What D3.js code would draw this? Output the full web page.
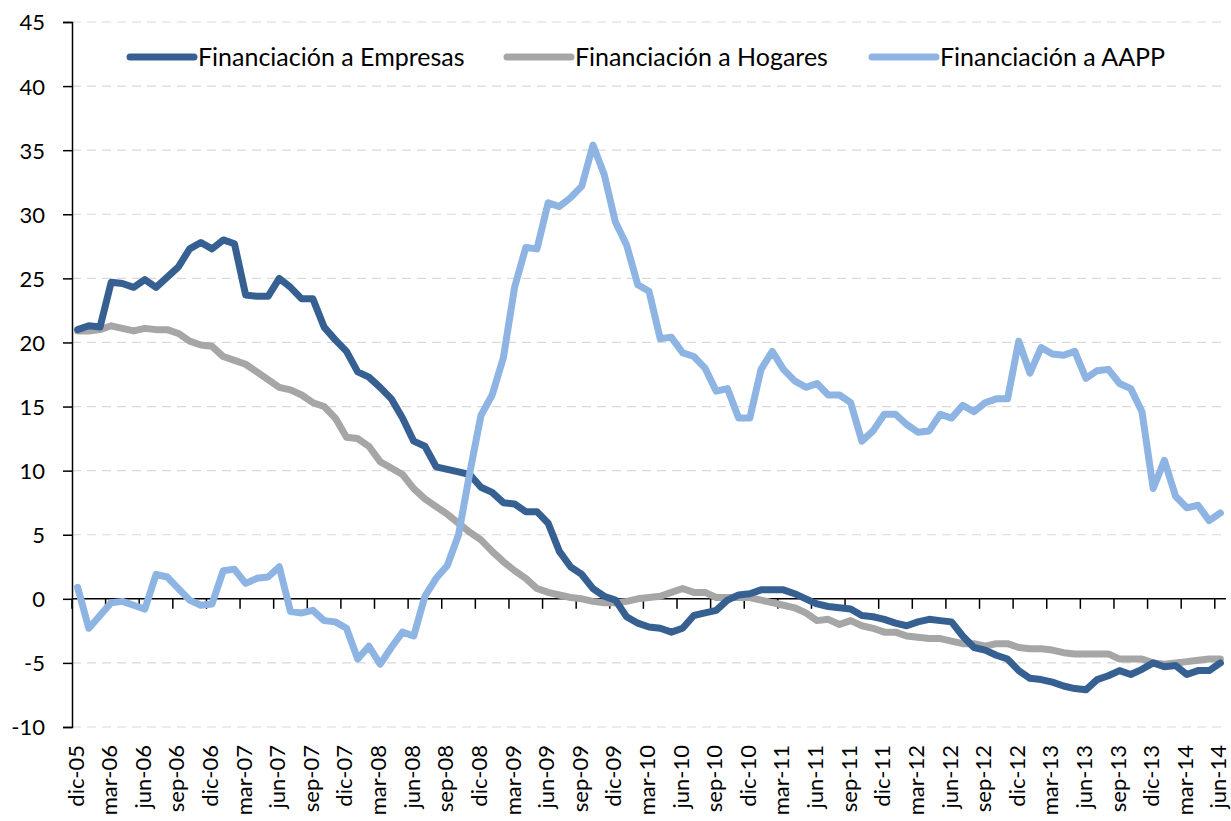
<!DOCTYPE html>
<html>
<head>
<meta charset="utf-8">
<script src="https://cdn.jsdelivr.net/npm/d3@7"></script>
<style>
  body { margin: 0; background: #fff; }
  svg text { font-family: Lato, "Open Sans", sans-serif; fill: #000; }
</style>
</head>
<body>
<svg id="chart" width="1231" height="821"></svg>
<script>
// month names as used in the axis labels (Spanish, abbreviated)
var monthNames = ["ene","feb","mar","abr","may","jun","jul","ago","sep","oct","nov","dic"];

// categories: dic-05 ... jun-14, one per month
var months = [];
for (var k = 0; k < 103; k++) {
    var m = (11 + k) % 12;
    var yy = 5 + Math.floor((11 + k) / 12);
    months.push(monthNames[m] + "-" + (yy < 10 ? "0" + yy : "" + yy));
}

var tickLabels = ["dic-05","mar-06","jun-06","sep-06","dic-06","mar-07","jun-07","sep-07","dic-07",
    "mar-08","jun-08","sep-08","dic-08","mar-09","jun-09","sep-09","dic-09","mar-10","jun-10",
    "sep-10","dic-10","mar-11","jun-11","sep-11","dic-11","mar-12","jun-12","sep-12","dic-12",
    "mar-13","jun-13","sep-13","dic-13","mar-14","jun-14"];

var yTicks = [-10, -5, 0, 5, 10, 15, 20, 25, 30, 35, 40, 45];

var empresas = [21.0,21.3,21.2,24.7,24.6,24.3,24.9,24.3,25.1,25.9,27.3,27.8,27.3,28.0,27.7,23.7,23.6,23.6,
    25.0,24.3,23.4,23.4,21.2,20.2,19.3,17.7,17.3,16.5,15.6,14.1,12.3,11.9,10.3,10.1,9.9,9.7,
    8.7,8.3,7.5,7.4,6.8,6.8,5.9,3.7,2.5,1.9,0.8,0.2,-0.1,-1.4,-1.9,-2.2,-2.3,-2.6,-2.3,-1.3,
    -1.1,-0.9,-0.1,0.3,0.4,0.7,0.7,0.7,0.4,0.0,-0.4,-0.6,-0.7,-0.8,-1.3,-1.4,-1.6,-1.9,-2.1,
    -1.8,-1.6,-1.7,-1.8,-2.9,-3.8,-4.0,-4.4,-4.7,-5.6,-6.2,-6.3,-6.5,-6.8,-7.0,-7.1,-6.3,-6.0,
    -5.6,-5.9,-5.5,-5.0,-5.3,-5.2,-5.9,-5.6,-5.6,-5.0];

var hogares = [20.9,20.9,21.0,21.3,21.1,20.9,21.1,21.0,21.0,20.7,20.1,19.8,19.7,18.9,18.6,18.3,17.7,
    17.1,16.5,16.3,15.9,15.3,15.0,14.1,12.6,12.5,11.9,10.7,10.2,9.7,8.6,7.8,7.2,6.6,5.9,5.2,
    4.6,3.7,2.9,2.2,1.6,0.8,0.5,0.3,0.1,0.0,-0.2,-0.3,-0.3,-0.2,0.0,0.1,0.2,0.5,0.8,0.5,0.5,
    0.1,0.1,0.1,0.1,-0.1,-0.3,-0.5,-0.7,-1.1,-1.7,-1.6,-2.0,-1.7,-2.1,-2.3,-2.6,-2.6,-2.9,-3.0,
    -3.1,-3.1,-3.3,-3.5,-3.5,-3.7,-3.5,-3.5,-3.8,-3.9,-3.9,-4.0,-4.2,-4.3,-4.3,-4.3,-4.3,-4.7,
    -4.7,-4.7,-5.0,-5.1,-5.0,-4.9,-4.8,-4.7,-4.7];

var aapp = [0.9,-2.3,-1.3,-0.3,-0.2,-0.5,-0.8,1.9,1.7,0.8,-0.1,-0.5,-0.4,2.2,2.3,1.2,1.6,1.7,2.5,
    -1.0,-1.1,-0.9,-1.7,-1.8,-2.3,-4.7,-3.7,-5.1,-3.8,-2.6,-2.9,0.2,1.6,2.6,5.0,9.8,14.3,15.9,
    18.8,24.3,27.4,27.3,30.9,30.6,31.3,32.2,35.4,33.1,29.4,27.6,24.5,24.0,20.3,20.4,19.2,18.9,
    18.0,16.2,16.4,14.1,14.1,17.9,19.3,17.9,17.0,16.5,16.8,15.9,15.9,15.3,12.3,13.1,14.4,14.4,
    13.6,13.0,13.1,14.4,14.1,15.1,14.6,15.3,15.6,15.6,20.1,17.6,19.6,19.1,19.0,19.3,17.2,17.8,
    17.9,16.8,16.4,14.6,8.6,10.8,8.0,7.1,7.3,6.1,6.7];

var seriesNames = ["Financiación a Empresas", "Financiación a Hogares", "Financiación a AAPP"];
var seriesColors = ["#376092", "#a6a6a6", "#8db4e2"];
var seriesData = [empresas, hogares, aapp];

var svg = d3.select("#chart");

var plotLeft = 72, plotRight = 1226, plotTop = 22, plotBottom = 727;

var x = d3.scaleBand().domain(months).range([plotLeft, plotRight]).padding(0);
var y = d3.scaleLinear().domain([-10, 45]).range([plotBottom, plotTop]);

// dashed gridlines
svg.append("g")
    .selectAll("line")
    .data(yTicks.filter(function(d) { return d != 0; }))
    .enter().append("line")
    .attr("x1", plotLeft).attr("x2", plotRight)
    .attr("y1", function(d) { return y(d); })
    .attr("y2", function(d) { return y(d); })
    .attr("stroke", "#d9d9d9")
    .attr("stroke-width", 1.2)
    .attr("stroke-dasharray", "9,6");

// y axis (plain hyphen for negatives, as in the original)
var yAxis = svg.append("g")
    .attr("transform", "translate(" + plotLeft + ",0)")
    .call(d3.axisLeft(y).tickValues(yTicks).tickSize(9).tickPadding(18).tickFormat(function(d) { return String(d); }));
yAxis.select(".domain").attr("stroke", "#000").attr("stroke-width", 1.5);
yAxis.selectAll(".tick line").attr("stroke", "#000").attr("stroke-width", 1.5);
yAxis.selectAll(".tick text").style("font-size", "22px").attr("dy", "0.36em");

// x axis line at zero with ticks every 3 months (between categories)
var xg = svg.append("g");
xg.append("line")
    .attr("x1", plotLeft).attr("x2", plotRight)
    .attr("y1", y(0)).attr("y2", y(0))
    .attr("stroke", "#000").attr("stroke-width", 1.5);

var tickCats = months.filter(function(d, i) { return i % 3 == 0; });
xg.selectAll("line.tk")
    .data(tickCats)
    .enter().append("line")
    .attr("class", "tk")
    .attr("x1", function(d) { return x(d); })
    .attr("x2", function(d) { return x(d); })
    .attr("y1", y(0)).attr("y2", y(0) + 10)
    .attr("stroke", "#000").attr("stroke-width", 1.5);

// x labels at the bottom, rotated
xg.selectAll("text")
    .data(tickLabels)
    .enter().append("text")
    .attr("transform", function(d) {
        return "translate(" + (x(d) + x.bandwidth() / 2 + 6) + "," + (plotBottom + 18) + ") rotate(-90)";
    })
    .attr("text-anchor", "end")
    .style("font-size", "22px")
    .text(function(d) { return d; });

// lines
var line = d3.line()
    .x(function(d, i) { return x(months[i]) + x.bandwidth() / 2; })
    .y(function(d) { return y(d); });

[1, 0, 2].forEach(function(s) {
    svg.append("path")
        .datum(seriesData[s])
        .attr("fill", "none")
        .attr("stroke", seriesColors[s])
        .attr("stroke-width", 7)
        .attr("stroke-linejoin", "round")
        .attr("stroke-linecap", "round")
        .attr("d", line);
});

// legend
var legendX = [130, 507, 872];
var legend = svg.append("g");
seriesNames.forEach(function(name, i) {
    legend.append("line")
        .attr("x1", legendX[i]).attr("x2", legendX[i] + 64)
        .attr("y1", 57).attr("y2", 57)
        .attr("stroke", seriesColors[i])
        .attr("stroke-width", 7)
        .attr("stroke-linecap", "round");
    legend.append("text")
        .attr("x", legendX[i] + 68)
        .attr("y", 57)
        .attr("dy", "0.36em")
        .style("font-size", "25px")
        .text(name);
});
</script>
</body>
</html>
